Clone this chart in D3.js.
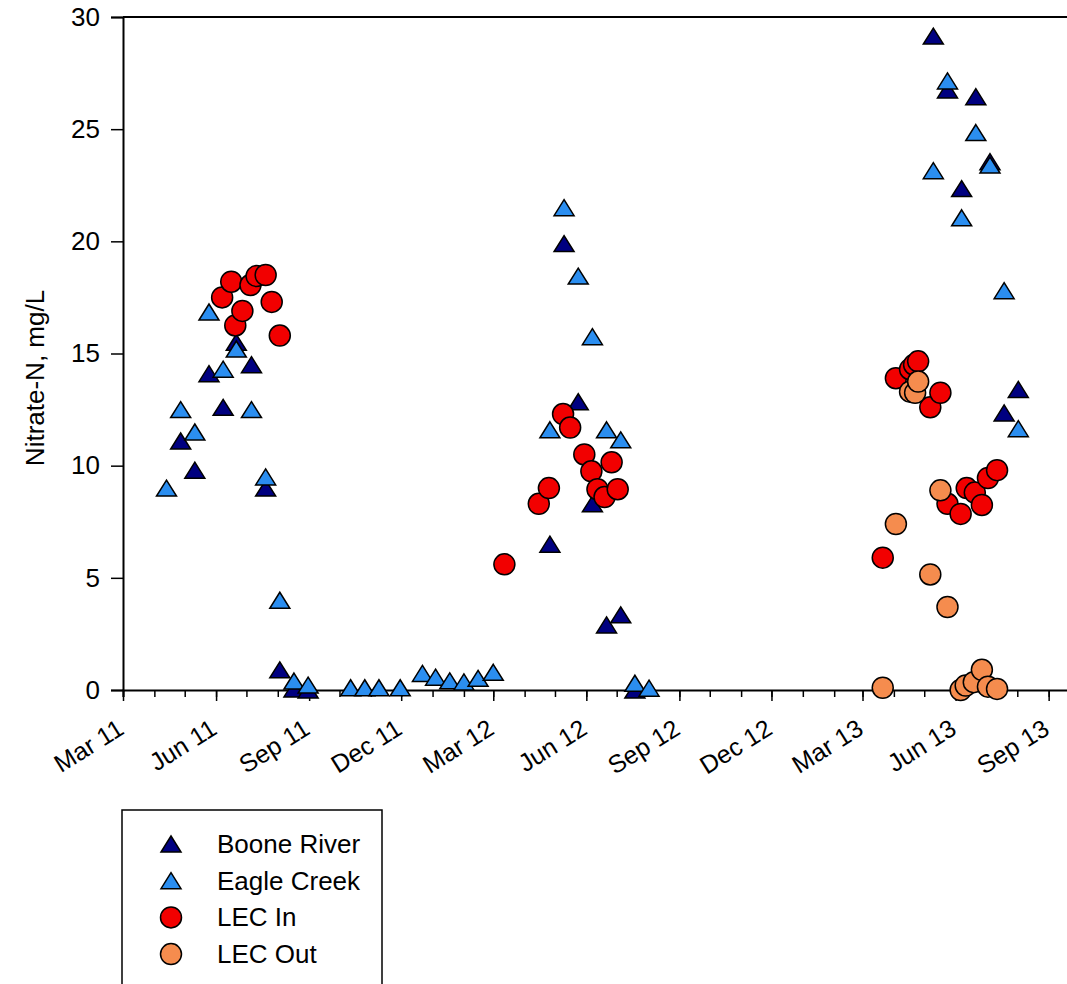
<!DOCTYPE html>
<html>

<head>
  <meta charset="UTF-8">
  <title>Nitrate-N</title>
  <script src="https://d3js.org/d3.v7.min.js"></script>
  <style>
    body {
      margin: 0;
      background: white;
    }

    text {
      font-family: "Liberation Sans", Arial, sans-serif;
    }
  </style>
</head>

<body>
  <svg></svg>
</body>

<script>
  // sample date, nitrate-N (mg/L)
  let booneRiver = [
    ["2011-04-27", 11.1], ["2011-05-11", 9.8], ["2011-05-25", 14.1], ["2011-06-08", 12.6],
    ["2011-06-21", 15.5], ["2011-07-06", 14.5], ["2011-07-20", 9.0], ["2011-08-03", 0.9],
    ["2011-08-17", 0.05], ["2011-08-31", 0.0],
    ["2012-04-26", 6.5], ["2012-05-10", 19.9], ["2012-05-24", 12.85], ["2012-06-07", 8.3],
    ["2012-06-21", 2.9], ["2012-07-05", 3.35], ["2012-07-19", 0.0],
    ["2013-05-10", 29.15], ["2013-05-24", 26.75], ["2013-06-07", 22.35], ["2013-06-21", 26.45],
    ["2013-07-05", 23.55], ["2013-07-19", 12.35], ["2013-08-02", 13.4]
  ];

  let eagleCreek = [
    ["2011-04-13", 9.0], ["2011-04-27", 12.5], ["2011-05-11", 11.5], ["2011-05-25", 16.85],
    ["2011-06-08", 14.3], ["2011-06-21", 15.2], ["2011-07-06", 12.5], ["2011-07-20", 9.5],
    ["2011-08-03", 4.0], ["2011-08-17", 0.4], ["2011-08-31", 0.22],
    ["2011-10-12", 0.1], ["2011-10-26", 0.1], ["2011-11-09", 0.1], ["2011-11-30", 0.1],
    ["2011-12-22", 0.74], ["2012-01-04", 0.57], ["2012-01-18", 0.41], ["2012-02-01", 0.36],
    ["2012-02-15", 0.52], ["2012-03-01", 0.79],
    ["2012-04-26", 11.6], ["2012-05-10", 21.5], ["2012-05-24", 18.45], ["2012-06-07", 15.75],
    ["2012-06-21", 11.6], ["2012-07-05", 11.15], ["2012-07-19", 0.3], ["2012-08-02", 0.08],
    ["2013-05-10", 23.15], ["2013-05-24", 27.15], ["2013-06-07", 21.05], ["2013-06-21", 24.85],
    ["2013-07-05", 23.4], ["2013-07-19", 17.8], ["2013-08-02", 11.65]
  ];

  let lecIn = [
    ["2011-06-07", 17.5], ["2011-06-16", 18.2], ["2011-06-20", 16.25], ["2011-06-27", 16.9],
    ["2011-07-05", 18.05], ["2011-07-11", 18.45], ["2011-07-20", 18.5], ["2011-07-26", 17.3],
    ["2011-08-03", 15.8],
    ["2012-03-12", 5.6], ["2012-04-15", 8.3], ["2012-04-25", 9.0], ["2012-05-09", 12.3],
    ["2012-05-16", 11.7], ["2012-05-30", 10.5], ["2012-06-06", 9.75], ["2012-06-12", 8.95],
    ["2012-06-19", 8.6], ["2012-06-26", 10.15], ["2012-07-02", 8.95],
    ["2013-03-21", 5.9], ["2013-04-03", 13.9], ["2013-04-17", 14.3], ["2013-04-21", 14.5],
    ["2013-04-25", 14.65], ["2013-05-07", 12.6], ["2013-05-17", 13.25], ["2013-05-24", 8.3],
    ["2013-06-06", 7.85], ["2013-06-12", 9.0], ["2013-06-20", 8.8], ["2013-06-27", 8.25],
    ["2013-07-03", 9.45], ["2013-07-12", 9.8]
  ];

  let lecOut = [
    ["2013-03-21", 0.1], ["2013-04-03", 7.4], ["2013-04-17", 13.3], ["2013-04-22", 13.25],
    ["2013-04-25", 13.75], ["2013-05-07", 5.15], ["2013-05-17", 8.9], ["2013-05-24", 3.7],
    ["2013-06-06", 0.0], ["2013-06-11", 0.2], ["2013-06-19", 0.35], ["2013-06-27", 0.9],
    ["2013-07-03", 0.15], ["2013-07-12", 0.05]
  ];

  let yTicks = [0, 5, 10, 15, 20, 25, 30];

  let series = [
    { name: "Boone River", data: booneRiver, shape: "triangle", color: "#000080" },
    { name: "Eagle Creek", data: eagleCreek, shape: "triangle", color: "#2b8ef0" },
    { name: "LEC In", data: lecIn, shape: "circle", color: "#f20000" },
    { name: "LEC Out", data: lecOut, shape: "circle", color: "#f58c4e" }
  ];

  let width = 1067,
    height = 984;

  let svg = d3.select("svg")
    .attr("width", width)
    .attr("height", height);

  let parse = d3.timeParse("%Y-%m-%d");

  // about one px per day; the right edge of the frame falls off the picture
  let x = d3.scaleTime()
    .domain([parse("2011-03-01"), parse("2013-10-01")])
    .range([123, 1079]);

  let y = d3.scaleLinear()
    .domain([0, 30])
    .range([690, 17]);

  let triPath = "M0,-8L10,8L-10,8Z";
  let dotR = 10.5;

  // top frame line
  svg.append("line")
    .attr("x1", x.range()[0]).attr("x2", x.range()[1])
    .attr("y1", y(30)).attr("y2", y(30))
    .attr("stroke", "black").attr("stroke-width", 2);

  // y axis
  let yAxis = svg.append("g")
    .attr("transform", "translate(" + x.range()[0] + ",0)")
    .call(d3.axisLeft(y).tickValues(yTicks).tickSize(12).tickPadding(11));
  yAxis.select(".domain").attr("stroke-width", 2);
  yAxis.selectAll(".tick line").attr("stroke-width", 1.5);
  yAxis.selectAll("text").attr("font-size", 26).attr("fill", "black")
    .attr("font-family", "Liberation Sans, Arial, sans-serif");

  // x axis: monthly minor ticks, quarterly labelled ticks
  let months = d3.timeMonths(x.domain()[0], x.domain()[1]);
  let quarters = months.filter(d => d.getMonth() % 3 == 2);

  let xMinor = svg.append("g")
    .attr("transform", "translate(0," + y(0) + ")")
    .call(d3.axisBottom(x).tickValues(months).tickSize(7).tickFormat(""));
  xMinor.select(".domain").attr("stroke-width", 2);
  xMinor.selectAll(".tick line").attr("stroke-width", 1.5);

  let xMajor = svg.append("g")
    .attr("transform", "translate(0," + y(0) + ")")
    .call(d3.axisBottom(x).tickValues(quarters).tickSize(11).tickFormat(d3.timeFormat("%b %y")));
  xMajor.select(".domain").remove();
  xMajor.selectAll(".tick line").attr("stroke-width", 1.5);
  xMajor.selectAll("text")
    .attr("font-size", 25)
    .attr("fill", "black")
    .attr("font-family", "Liberation Sans, Arial, sans-serif")
    .attr("text-anchor", "end")
    .attr("y", 0)
    .attr("dy", 0)
    .attr("transform", "translate(2,43) rotate(-32)");

  // y label
  svg.append("text")
    .attr("transform", "translate(44,378) rotate(-90)")
    .attr("text-anchor", "middle")
    .attr("font-size", 26)
    .text("Nitrate-N, mg/L");

  // points
  series.forEach(s => {
    let g = svg.append("g");
    if (s.shape == "circle") {
      g.selectAll("circle")
        .data(s.data)
        .enter()
        .append("circle")
        .attr("cx", d => x(parse(d[0])))
        .attr("cy", d => y(d[1]))
        .attr("r", dotR)
        .attr("fill", s.color)
        .attr("stroke", "black")
        .attr("stroke-width", 1.5);
    } else {
      g.selectAll("path")
        .data(s.data)
        .enter()
        .append("path")
        .attr("d", triPath)
        .attr("transform", d => "translate(" + x(parse(d[0])) + "," + y(d[1]) + ")")
        .attr("fill", s.color)
        .attr("stroke", "black")
        .attr("stroke-width", 1.5);
    }
  });

  // legend
  let legend = svg.append("g").attr("transform", "translate(122,810)");
  legend.append("rect")
    .attr("width", 260).attr("height", 200)
    .attr("fill", "white").attr("stroke", "black").attr("stroke-width", 1.5);

  let rows = legend.selectAll(".row")
    .data(series)
    .enter()
    .append("g")
    .attr("transform", (d, i) => "translate(49," + (34 + i * 36.7) + ")");

  rows.each(function(s) {
    let r = d3.select(this);
    if (s.shape == "circle") {
      r.append("circle").attr("r", dotR).attr("fill", s.color)
        .attr("stroke", "black").attr("stroke-width", 1.5);
    } else {
      r.append("path").attr("d", triPath).attr("fill", s.color)
        .attr("stroke", "black").attr("stroke-width", 1.5);
    }
  });

  rows.append("text")
    .attr("x", 46)
    .attr("y", 9)
    .attr("font-size", 26)
    .text(d => d.name);
</script>
</html>
